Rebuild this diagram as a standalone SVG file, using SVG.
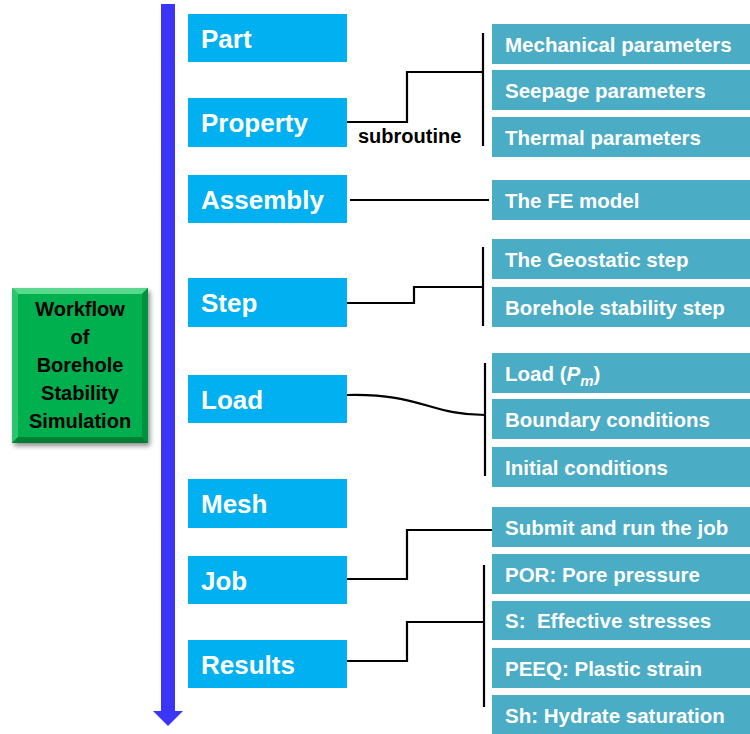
<svg xmlns="http://www.w3.org/2000/svg" width="750" height="734" viewBox="0 0 750 734">
<defs>
<style>
.step{fill:#00b0f0}
.steptxt{font-family:"Liberation Sans",Arial,sans-serif;font-weight:bold;font-size:26px;fill:#fff}
.item{fill:#4bacc6}
.itemtxt{font-family:"Liberation Sans",Arial,sans-serif;font-weight:bold;font-size:20.5px;fill:#fff}
.conn{fill:none;stroke:#000;stroke-width:2.2}
.title{font-family:"Liberation Sans",Arial,sans-serif;font-weight:bold;font-size:20px;fill:#000;text-anchor:middle}
</style>
<filter id="sh" x="-20%" y="-20%" width="150%" height="150%">
<feGaussianBlur in="SourceAlpha" stdDeviation="2.5"/>
<feOffset dx="2" dy="3" result="b"/>
<feComponentTransfer><feFuncA type="linear" slope="0.45"/></feComponentTransfer>
<feMerge><feMergeNode/><feMergeNode in="SourceGraphic"/></feMerge>
</filter>
</defs>
<rect width="750" height="734" fill="#fff"/>

<g id="timeline">
<rect x="161" y="4" width="14" height="710" fill="#3b35f8"/>
<polygon points="153,711 183,711 168,726" fill="#3b35f8"/>
</g>

<g id="title-box">
<g filter="url(#sh)">
<rect x="12" y="288" width="136" height="155" fill="#00b050"/>
<polygon points="12,288 148,288 142,294 18,294" fill="#5ad88e"/>
<polygon points="12,288 18,294 18,437 12,443" fill="#2cc56c"/>
<polygon points="148,288 148,443 142,437 142,294" fill="#00913f"/>
<polygon points="12,443 148,443 142,437 18,437" fill="#007f36"/>
</g>
<text class="title" x="80" y="316">Workflow</text>
<text class="title" x="80" y="344">of</text>
<text class="title" x="80" y="372">Borehole</text>
<text class="title" x="80" y="400">Stability</text>
<text class="title" x="80" y="428">Simulation</text>
</g>

<g id="part"><rect class="step" x="188" y="14" width="159" height="48"/><text class="steptxt" x="201" y="48">Part</text></g>
<g id="property"><rect class="step" x="188" y="98" width="159" height="49"/><text class="steptxt" x="201" y="132">Property</text></g>
<g id="assembly"><rect class="step" x="188" y="175" width="159" height="48"/><text class="steptxt" x="201" y="209">Assembly</text></g>
<g id="step"><rect class="step" x="188" y="278" width="159" height="49"/><text class="steptxt" x="201" y="312">Step</text></g>
<g id="load"><rect class="step" x="188" y="375" width="159" height="48"/><text class="steptxt" x="201" y="409">Load</text></g>
<g id="mesh"><rect class="step" x="188" y="479" width="159" height="49"/><text class="steptxt" x="201" y="513">Mesh</text></g>
<g id="job"><rect class="step" x="188" y="556" width="159" height="48"/><text class="steptxt" x="201" y="590">Job</text></g>
<g id="results"><rect class="step" x="188" y="640" width="159" height="48"/><text class="steptxt" x="201" y="674">Results</text></g>

<g id="mechanical"><rect class="item" x="492" y="24" width="258" height="40"/><text class="itemtxt" x="505" y="52">Mechanical parameters</text></g>
<g id="seepage"><rect class="item" x="492" y="70" width="258" height="40"/><text class="itemtxt" x="505" y="98">Seepage parameters</text></g>
<g id="thermal"><rect class="item" x="492" y="117" width="258" height="40"/><text class="itemtxt" x="505" y="145">Thermal parameters</text></g>
<g id="fe-model"><rect class="item" x="492" y="180" width="258" height="40"/><text class="itemtxt" x="505" y="208">The FE model</text></g>
<g id="geostatic"><rect class="item" x="492" y="239" width="258" height="40"/><text class="itemtxt" x="505" y="267">The Geostatic step</text></g>
<g id="borehole-step"><rect class="item" x="492" y="287" width="258" height="40"/><text class="itemtxt" x="505" y="315">Borehole stability step</text></g>
<g id="load-pm"><rect class="item" x="492" y="353" width="258" height="40"/><text class="itemtxt" x="505" y="381">Load (<tspan font-style="italic">P</tspan><tspan font-style="italic" font-size="15px" dy="5">m</tspan><tspan dy="-5">)</tspan></text></g>
<g id="boundary"><rect class="item" x="492" y="399" width="258" height="40"/><text class="itemtxt" x="505" y="427">Boundary conditions</text></g>
<g id="initial"><rect class="item" x="492" y="447" width="258" height="40"/><text class="itemtxt" x="505" y="475">Initial conditions</text></g>
<g id="submit"><rect class="item" x="492" y="507" width="258" height="40"/><text class="itemtxt" x="505" y="535">Submit and run the job</text></g>
<g id="por"><rect class="item" x="492" y="554" width="258" height="40"/><text class="itemtxt" x="505" y="582">POR: Pore pressure</text></g>
<g id="s"><rect class="item" x="492" y="601" width="258" height="39"/><text class="itemtxt" x="505" y="628" xml:space="preserve">S:  Effective stresses</text></g>
<g id="peeq"><rect class="item" x="492" y="648" width="258" height="40"/><text class="itemtxt" x="505" y="676">PEEQ: Plastic strain</text></g>
<g id="sh-sat"><rect class="item" x="492" y="695" width="258" height="40"/><text class="itemtxt" x="505" y="723">Sh: Hydrate saturation</text></g>

<g id="connectors">
<polyline class="conn" points="347,122 407,122 407,72 483,72"/>
<line class="conn" x1="483" y1="33" x2="483" y2="146"/>
<text x="358" y="143" font-family="Liberation Sans,Arial,sans-serif" font-weight="bold" font-size="20px" fill="#000">subroutine</text>
<line class="conn" x1="350" y1="200" x2="489" y2="200"/>
<polyline class="conn" points="347,303 414,303 414,287 483,287"/>
<line class="conn" x1="483" y1="247" x2="483" y2="326"/>
<path class="conn" d="M347,395 C420,393 430,415 485,415"/>
<line class="conn" x1="485" y1="363" x2="485" y2="476"/>
<polyline class="conn" points="347,579 407,579 407,530 492,530"/>
<polyline class="conn" points="347,661 407,661 407,622 484,622"/>
<line class="conn" x1="484" y1="565" x2="484" y2="707"/>
</g>
</svg>
